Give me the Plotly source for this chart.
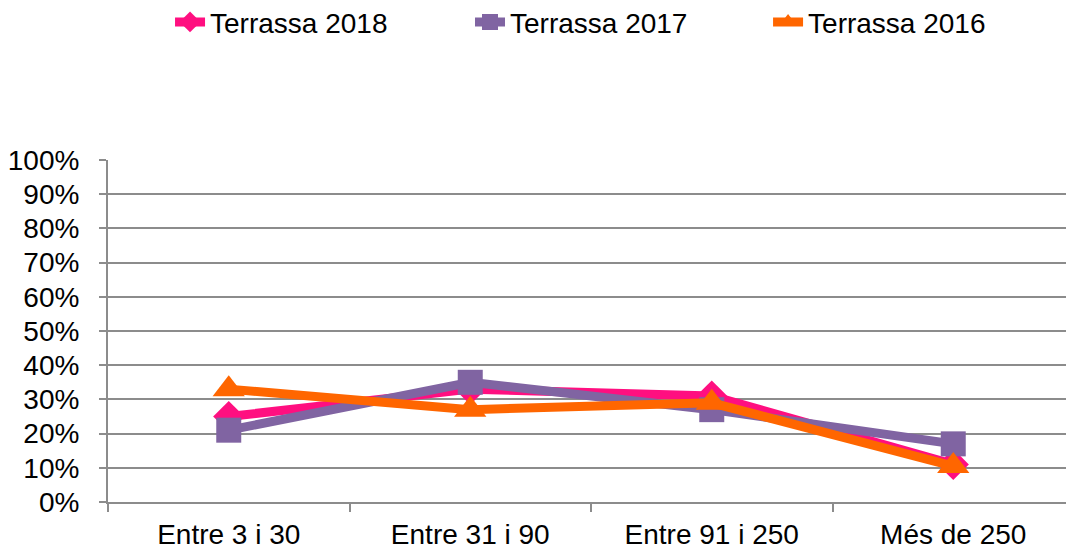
import plotly.graph_objects as go

categories = ["Entre 3 i 30", "Entre 31 i 90", "Entre 91 i 250", "Més de 250"]
terrassa_2018 = [0.25, 0.33, 0.31, 0.11]
terrassa_2017 = [0.21, 0.35, 0.27, 0.17]
terrassa_2016 = [0.33, 0.27, 0.29, 0.105]
y_ticks = [i / 10 for i in range(11)]
y_tick_labels = [f"{i*10}%" for i in range(11)]

series = [
    ("Terrassa 2018", terrassa_2018, "#FF0F80", "diamond", 24, "legend"),
    ("Terrassa 2017", terrassa_2017, "#8064A2", "square", 25, "legend2"),
    ("Terrassa 2016", terrassa_2016, "#FF6600", "triangle-up", 28, "legend3"),
]

fig = go.Figure()
for name, vals, color, sym, size, leg in series:
    fig.add_trace(go.Scatter(
        x=categories, y=vals, name=name, mode="lines+markers",
        line=dict(color=color, width=9),
        marker=dict(symbol=sym, size=size, color=color),
        legend=leg,
    ))

font_family = "Liberation Sans, Arial, sans-serif"


def leg_cfg(xpos):
    return dict(orientation="h", xref="container", x=xpos, xanchor="left",
                yref="container", y=0.974, yanchor="middle",
                font=dict(size=28), bgcolor="rgba(0,0,0,0)")


fig.update_layout(
    width=1066, height=546,
    margin=dict(l=100, r=0, t=152, b=52),
    paper_bgcolor="white", plot_bgcolor="white",
    font=dict(family=font_family, size=28, color="black"),
    showlegend=True,
    legend=leg_cfg(0.152),
    legend2=leg_cfg(0.4334),
    legend3=leg_cfg(0.713),
    xaxis=dict(
        type="category", showgrid=False, showline=True, linecolor="#8C8C8C", linewidth=2,
        ticks="outside", tickson="boundaries", ticklen=8, tickcolor="#8C8C8C", tickwidth=2,
        tickfont=dict(size=28), range=[-0.5, 3.5], automargin=False,
        ticklabelstandoff=6,
    ),
    yaxis=dict(
        range=[0, 1], tickvals=y_ticks, ticktext=y_tick_labels,
        showgrid=True, gridcolor="#8C8C8C", gridwidth=1.5,
        showline=True, linecolor="#8C8C8C", linewidth=2,
        ticks="outside", ticklen=7, tickcolor="#8C8C8C", tickwidth=2,
        tickfont=dict(size=28), zeroline=False, automargin=False,
        ticklabelstandoff=14,
    ),
)

fig.write_html("out.html")
